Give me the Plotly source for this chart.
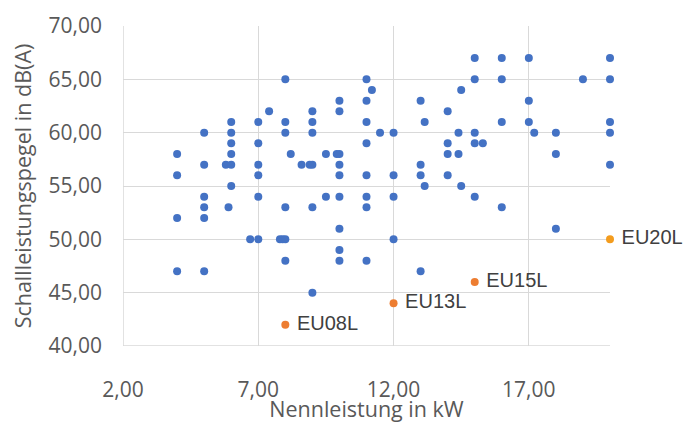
import plotly.graph_objects as go

# Blue series: rated power (kW) vs sound power level (dB(A))
blue_x = [4, 4, 4, 4,
          5, 5, 5, 5, 5, 5,
          5.8, 5.9,
          6, 6, 6, 6, 6, 6,
          6.7,
          7, 7, 7, 7, 7, 7,
          7.4,
          7.8, 7.9, 8,
          8, 8, 8, 8, 8,
          8.2, 8.6, 8.9, 9,
          9, 9, 9, 9, 9,
          9.5, 9.5, 9.9,
          10, 10, 10, 10, 10, 10, 10, 10, 10,
          11, 11, 11, 11, 11, 11, 11, 11,
          11.2, 11.5,
          12, 12, 12, 12,
          13, 13, 13, 13,
          13.15, 13.15,
          14, 14, 14, 14,
          14.4, 14.4, 14.5, 14.5,
          15, 15, 15, 15, 15,
          15.3,
          16, 16, 16, 16,
          17, 17, 17, 17.2,
          18, 18, 18,
          19,
          20, 20, 20, 20, 20]
blue_y = [58, 56, 52, 47,
          60, 57, 54, 53, 52, 47,
          57, 53,
          61, 60, 59, 58, 57, 55,
          50,
          61, 59, 57, 56, 54, 50,
          62,
          50, 50, 50,
          65, 61, 60, 53, 48,
          58, 57, 57, 57,
          62, 61, 60, 53, 45,
          58, 54, 58,
          58, 63, 62, 57, 56, 54, 51, 49, 48,
          65, 63, 61, 59, 56, 54, 53, 48,
          64, 60,
          60, 56, 54, 50,
          63, 57, 56, 47,
          61, 55,
          62, 59, 58, 56,
          60, 58, 64, 55,
          67, 65, 60, 59, 54,
          59,
          67, 65, 61, 53,
          67, 63, 61, 60,
          60, 58, 51,
          65,
          67, 65, 61, 60, 57]

# Highlighted models
eu_names = ["EU08L", "EU13L", "EU15L", "EU20L"]
eu_x = [8, 12, 15, 20]
eu_y = [42, 44, 46, 50]
eu_colors = ["#ED7D31", "#ED7D31", "#ED7D31", "#F39C1E"]

x_ticks = [2, 7, 12, 17]
x_tick_labels = ["2,00", "7,00", "12,00", "17,00"]
y_ticks = [40, 45, 50, 55, 60, 65, 70]
y_tick_labels = ["40,00", "45,00", "50,00", "55,00", "60,00", "65,00", "70,00"]

fig = go.Figure()
fig.add_trace(go.Scatter(
    x=blue_x, y=blue_y, mode="markers",
    marker=dict(color="#4472C4", size=8),
    showlegend=False, cliponaxis=False,
))
fig.add_trace(go.Scatter(
    x=eu_x, y=eu_y, mode="markers+text",
    text=["\u00a0" + n for n in eu_names], textposition="middle right",
    textfont=dict(family="Liberation Sans, Arial", size=20, color="#404040"),
    marker=dict(color=eu_colors, size=8),
    showlegend=False, cliponaxis=False,
))

font_tick = dict(family="Open Sans", size=21, color="#595959")
font_title = dict(family="Open Sans", size=21.5, color="#595959")

fig.update_layout(
    width=698, height=423,
    margin=dict(l=123, r=88, t=26, b=77),
    plot_bgcolor="white", paper_bgcolor="white",
    xaxis=dict(
        range=[2, 20], tickvals=x_ticks, ticktext=x_tick_labels,
        showgrid=True, gridcolor="#D9D9D9", gridwidth=1,
        zeroline=False, showline=False, automargin=False,
        tickfont=font_tick, ticklabelstandoff=29,
        title=dict(text="Nennleistung in kW", font=font_title, standoff=12),
        fixedrange=True,
    ),
    yaxis=dict(
        range=[40, 70], tickvals=y_ticks, ticktext=y_tick_labels,
        showgrid=True, gridcolor="#D9D9D9", gridwidth=1,
        zeroline=False, showline=False, automargin=False,
        tickfont=font_tick, ticklabelstandoff=20,
        title=dict(text="Schallleistungspegel in dB(A)", font=font_title, standoff=11),
        fixedrange=True,
    ),
)
fig.add_shape(type="line", xref="x", yref="paper", x0=2, x1=2, y0=0, y1=1,
              line=dict(color="#D9D9D9", width=1.5), layer="below")
fig.add_shape(type="line", xref="paper", yref="y", x0=0, x1=1, y0=40, y1=40,
              line=dict(color="#D9D9D9", width=1.5), layer="below")

fig.write_html("out.html", config={"displayModeBar": False},
               post_script="document.body.style.margin='0';")
